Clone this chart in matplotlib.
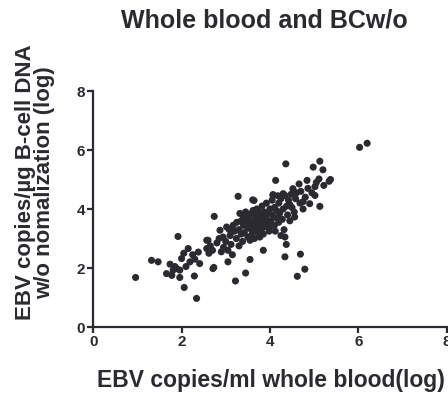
import matplotlib
matplotlib.use("Agg")
import matplotlib.pyplot as plt

plt.rcParams['font.family'] = ['Liberation Sans', 'DejaVu Sans']

# EBV copies/ml whole blood (log) vs EBV copies/ug B-cell DNA (log)
whole_blood = [
    0.96, 1.32, 1.47, 1.66, 1.74, 1.81, 1.89, 1.96, 1.96, 1.92, 2.00, 2.06, 2.10, 2.15, 2.19, 2.29,
    2.34, 2.38, 2.41, 1.85, 2.05, 2.25, 1.78, 2.30,
    2.57, 2.60, 2.57, 2.71, 2.73, 2.74, 2.65, 2.70, 2.80, 2.87, 2.94, 2.90, 2.95, 3.02, 3.05, 3.00,
    3.05, 3.10, 3.12, 3.17, 3.15, 3.22, 3.20, 2.85, 2.62, 3.08,
    3.24, 3.28, 3.25, 3.30, 3.30, 3.35, 3.35, 3.38, 3.40, 3.40, 3.42, 3.45, 3.45, 3.47, 3.50, 3.50,
    3.52, 3.55, 3.55, 3.55, 3.58, 3.60, 3.61, 3.62, 3.64, 3.65, 3.65, 3.68, 3.70, 3.70, 3.72, 3.75,
    3.75, 3.77, 3.78, 3.80, 3.80, 3.82, 3.85, 3.85, 3.87, 3.88, 3.90, 3.92, 3.95, 3.95, 3.98, 4.00,
    3.58, 3.48, 3.38, 3.62, 3.32, 3.68, 3.85, 3.72,
    4.02, 4.05, 4.07, 4.07, 4.05, 4.10, 4.10, 4.13, 4.15, 4.15, 4.20, 4.20, 4.22, 4.25, 4.28, 4.30,
    4.30, 4.32, 4.34, 4.34, 4.34, 4.36, 4.37, 4.38, 4.40, 4.42, 4.45, 4.48, 4.50, 4.52, 4.55, 4.56,
    4.58, 4.60, 4.62, 4.66, 4.68, 4.69, 4.70, 4.12, 4.25, 4.45, 4.00, 4.18,
    4.75, 4.79, 4.80, 4.84, 4.86, 4.90, 4.95, 4.98, 5.02, 5.02, 5.11, 5.13, 5.13, 5.20, 5.22, 5.34,
    5.37, 6.03, 6.20, 4.75, 5.05,
]
bcell_dna = [
    1.68, 2.26, 2.21, 1.81, 2.13, 1.93, 1.98, 1.93, 1.68, 3.07, 2.32, 1.34, 2.05, 2.66, 2.21, 1.73,
    0.97, 2.54, 2.15, 2.05, 2.50, 2.45, 1.75, 2.30,
    2.66, 2.94, 2.94, 1.98, 2.02, 3.75, 2.75, 2.60, 2.85, 3.28, 3.05, 2.55, 2.70, 3.39, 2.21, 2.90,
    2.60, 3.10, 2.80, 3.45, 2.45, 1.56, 3.25, 3.00, 2.50, 3.30,
    3.00, 4.43, 3.55, 3.30, 2.75, 3.60, 3.15, 2.90, 3.75, 3.45, 3.20, 1.83, 3.90, 3.60, 3.35, 3.05,
    3.70, 2.94, 2.29, 3.50, 3.85, 3.25, 4.31, 3.60, 4.29, 3.40, 3.00, 3.75, 3.55, 4.00, 3.20, 3.65,
    3.90, 3.05, 3.45, 3.80, 3.30, 4.10, 2.60, 3.60, 3.90, 3.40, 3.70, 4.20, 3.50, 3.85, 3.25, 4.00,
    3.10, 3.80, 3.55, 3.95, 3.85, 3.30, 3.15, 3.85,
    3.60, 4.30, 4.46, 4.49, 3.80, 3.45, 4.05, 4.97, 3.70, 3.95, 4.20, 3.55, 3.85, 4.35, 3.65, 4.52,
    4.00, 3.30, 4.46, 3.05, 2.38, 5.53, 2.80, 4.10, 3.80, 4.30, 3.60, 4.50, 4.05, 4.69, 3.90, 3.73,
    4.35, 4.55, 1.72, 4.85, 4.20, 2.47, 4.60, 3.25, 3.10, 4.15, 3.40, 4.45,
    4.00, 1.96, 4.40, 4.97, 4.70, 4.18, 4.55, 5.42, 4.76, 4.46, 5.02, 5.62, 4.09, 5.33, 4.80, 4.94,
    5.00, 6.09, 6.23, 4.25, 4.90,
]

dark = '#2a2a30'

fig = plt.figure(figsize=(4.48, 3.94), dpi=100)
ax = fig.add_axes([0.208, 0.170, 0.789, 0.599])
ax.scatter(whole_blood, bcell_dna, s=26, color=dark, edgecolors='none')

ax.set_xlim(0, 8)
ax.set_ylim(0, 8)
ax.set_xticks([0, 2, 4, 6, 8])
ax.set_yticks([0, 2, 4, 6, 8])
for side in ['top', 'right']:
    ax.spines[side].set_visible(False)
for side in ['left', 'bottom']:
    ax.spines[side].set_linewidth(1.6)
    ax.spines[side].set_color(dark)
ax.tick_params(direction='out', length=4, width=1.6, color=dark, labelcolor=dark,
               labelsize=11, pad=2)
for lbl in ax.get_xticklabels() + ax.get_yticklabels():
    lbl.set_fontweight('bold')

fig.text(0.605, 0.033, 'EBV copies/ml whole blood(log)', fontsize=16.5, fontweight='bold',
         color=dark, ha='center', va='center')
fig.text(0.078, 0.537, 'EBV copies/µg B-cell DNA\nw/o nomalization (log)', fontsize=16,
         fontweight='bold', color=dark, ha='center', va='center', rotation=90,
         linespacing=0.85)
fig.text(0.59, 0.949, 'Whole blood and BCw/o', fontsize=18, fontweight='bold',
         color=dark, ha='center', va='center')

fig.savefig('out.png', dpi=100)
